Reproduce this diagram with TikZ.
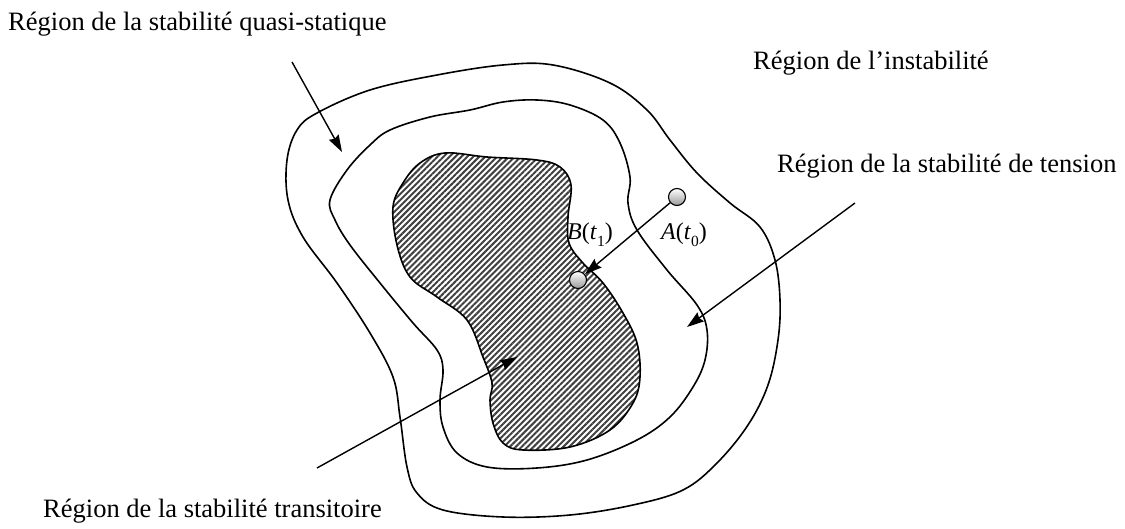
\documentclass[tikz,border=0pt]{standalone}
\usepackage{fontspec}
\setmainfont{Liberation Serif}
\usetikzlibrary{arrows.meta,patterns.meta}
\begin{document}
\begin{tikzpicture}[x=1pt,y=-1pt,
  region/.style={line width=1.6pt, line join=round},
  pointer/.style={line width=1.4pt, -{Stealth[length=17pt,width=11pt,inset=2pt]}},
  lbl/.style={inner sep=0pt, anchor=base west, font=\fontsize{26.5}{30}\selectfont},
  ptlbl/.style={inner sep=0pt, anchor=base west, font=\fontsize{24}{27}\selectfont},
  ball/.style={circle, draw, line width=1.1pt, minimum size=17pt, inner sep=0pt,
    top color=white, bottom color=gray!80}]
\useasboundingbox (0,0) rectangle (1125,529);

% hatched core region
\draw[region, pattern={Lines[angle=45,distance=4.2pt,line width=2pt]}, pattern color=black!75]
  plot[smooth cycle, tension=0.6] coordinates {
  (393,207) (403,183) (420,163) (445,153) (487,157) (537,160) (560,167) (571,185)
  (568,217) (569,243) (582,262) (603,283) (623,313) (637,343) (640,377) (633,403)
  (610,430) (570,447) (523,450) (503,443) (493,423) (490,400) (492,383) (483,357)
  (467,320) (437,297) (410,277) (397,245)};

% middle region
\draw[region] plot[smooth cycle, tension=0.6] coordinates {
  (330,200) (347,170) (370,145) (390,130) (430,117) (470,110) (503,102) (537,100)
  (570,105) (603,120) (620,143) (630,177) (628,203) (637,230) (667,270) (697,305)
  (707,330) (705,360) (693,387) (670,417) (637,440) (587,460) (537,468) (487,467)
  (457,453) (443,427) (440,400) (443,370) (437,350) (413,323) (380,283) (350,245)
  (335,220)};

% outer region
\draw[region] plot[smooth cycle, tension=0.6] coordinates {
  (503,65) (553,65) (610,83) (647,110) (670,140) (697,173) (730,203) (760,227)
  (775,260) (780,300) (778,340) (768,385) (748,425) (717,463) (683,490) (633,505)
  (570,515) (503,517) (443,510) (417,493) (407,467) (400,417) (393,377) (370,333)
  (337,283) (303,237) (288,200) (287,160) (297,130) (317,113) (370,90) (437,75)};

% texts
\node[lbl] (tq) at (8,31) {Région de la stabilité quasi-statique};
\node[lbl] (ti) at (753,70) {Région de l’instabilité};
\node[lbl] (tt) at (777,173) {Région de la stabilité de tension};
\node[lbl] (tr) at (43,517) {Région de la stabilité transitoire};

% pointer arrows
\coordinate (q0) at (292,62);  \coordinate (q1) at (342,152);
\coordinate (v0) at (855,203); \coordinate (v1) at (687,327);
\coordinate (r0) at (317,468); \coordinate (r1) at (517,357);
\draw[pointer] (q0) -- (q1);
\draw[pointer] (v0) -- (v1);
\draw[pointer] (r0) -- (r1);

% operating points
\node[ball] (A) at (677,197) {};
\node[ball] (B) at (578,280) {};
\draw[pointer] (A) -- (B);

\node[ptlbl] (lb) at (567,240) {\textit{B}(\textit{t}\raisebox{-0.28em}{\fontsize{15.5}{16}\selectfont 1})};
\node[ptlbl] (la) at (661,240) {\textit{A}(\textit{t}\raisebox{-0.28em}{\fontsize{15.5}{16}\selectfont 0})};
\end{tikzpicture}
\end{document}
